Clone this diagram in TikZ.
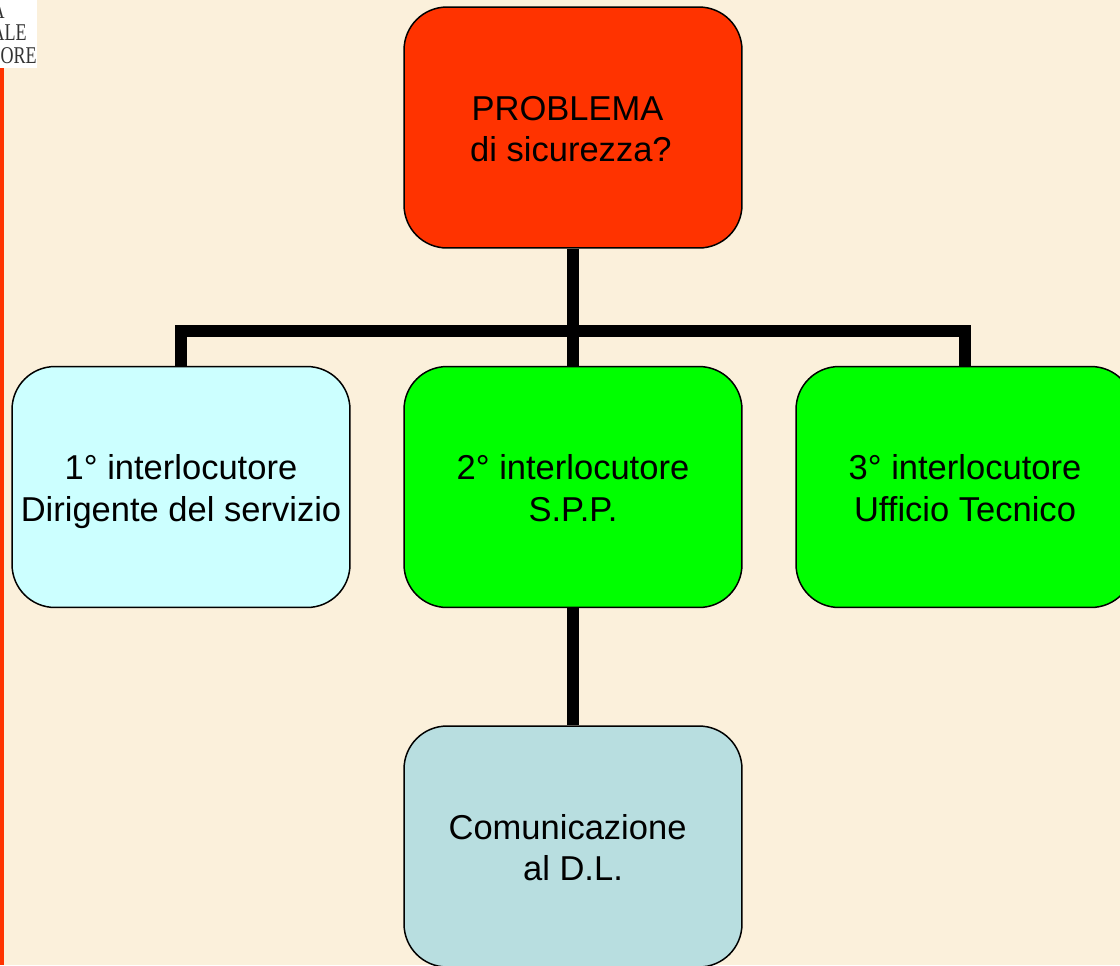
\documentclass[tikz,border=0pt]{standalone}
\usepackage{fontspec}
\setmainfont{Liberation Sans}
\newfontfamily\logofont[FakeStretch=0.75]{Liberation Serif}
\usepackage{tikz}
\usetikzlibrary{calc}

\definecolor{paper}{HTML}{FBF0DB}
\definecolor{redbox}{HTML}{FF3300}
\definecolor{cyanbox}{HTML}{CCFFFF}
\definecolor{greenbox}{HTML}{00FF00}
\definecolor{tealbox}{HTML}{B8DEE0}

\tikzset{
  box/.style={draw=black, line width=0.85pt, rounded corners=0.86cm, align=center,
    minimum width=6.76cm, minimum height=4.82cm, inner sep=0pt, text=black,
    text height=39.1pt, text depth=0pt,
    font=\fontsize{19.65}{23.8}\selectfont},
  bus/.style={draw=black, line width=0.24cm},
  logotext/.style={anchor=east, inner sep=0pt, text=black!80,
    font=\logofont\fontsize{13.7}{14}\selectfont}
}

\begin{document}
\begin{tikzpicture}[x=0.02cm, y=-0.02cm]

\useasboundingbox (0,0) rectangle (1120,965);
\clip (0,0) rectangle (1120,965);

\fill [paper] (0,0) rectangle (1120,965);
\fill [redbox] (0,68) rectangle (4,965);

% logo corner
\fill [white] (0,0) rectangle (37,68);
\begin{scope}
\clip (0,0) rectangle (37,68);
\node [logotext] (logoa) at (5, 11) {A};
\node [logotext] (logob) at (27, 33) {ALE};
\node [logotext] (logoc) at (37, 56) {ORE};
\end{scope}

\node [box, fill=redbox] (problema) at (573, 127.5) {PROBLEMA\hspace*{6.2pt}\\di sicurezza?\hspace*{2.3pt}};

\node [box, fill=cyanbox] (first) at (181, 487) {1° interlocutore\\Dirigente del servizio};
\node [box, fill=greenbox] (second) at (573, 487) {2° interlocutore\\S.P.P.};
\node [box, fill=greenbox] (third) at (965, 487) {3° interlocutore\\Ufficio Tecnico};

\node [box, fill=tealbox] (dl) at (573, 846.5) {Comunicazione\hspace*{6.2pt}\\al D.L.};

% connectors
\coordinate (busmid) at (573, 331);
\draw [bus] (problema.south) -- (second.north);
\draw [bus] (first.north) |- (busmid) -| (third.north);
\draw [bus] (second.south) -- (dl.north);

\end{tikzpicture}
\end{document}
